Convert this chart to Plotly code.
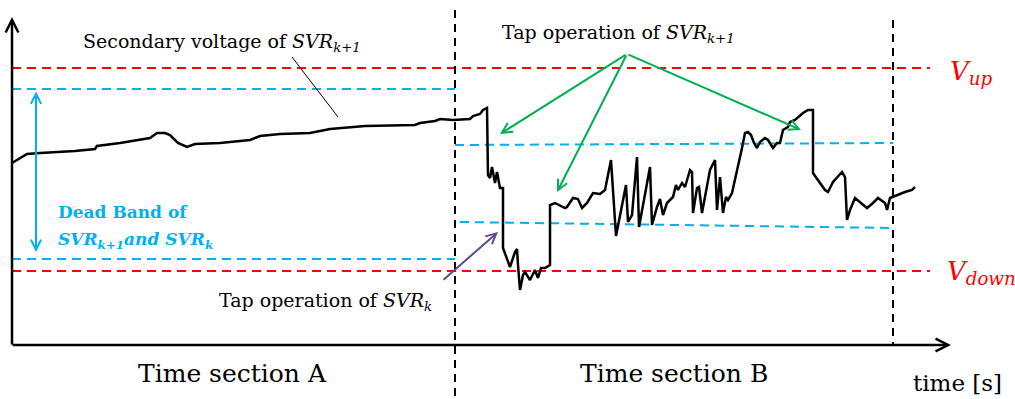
import plotly.graph_objects as go

# ---- data (schematic in chart units) ----
volt_x = [12, 20, 27, 40, 60, 75, 95, 97, 120, 150, 157, 165, 170, 178, 187, 195, 220, 250, 260, 280,
          310, 330, 365, 415, 420, 435, 440, 453, 470, 473, 480, 483, 487, 488, 490, 492, 495, 497,
          500, 503, 503, 507, 510, 515, 517, 518, 520, 523, 525, 530, 535, 538, 541, 545, 550, 550,
          555, 565, 567, 573, 578, 582, 587, 593, 600, 605, 611, 616, 626, 628, 632, 637, 639, 650,
          652, 657, 660, 663, 667, 673, 676, 678, 682, 685, 690, 692, 693, 697, 699, 702, 705, 710,
          715, 717, 720, 723, 726, 728, 732, 737, 742, 745, 748, 751, 754, 757, 760, 765, 768, 773,
          777, 780, 783, 788, 790, 795, 798, 803, 808, 813, 813, 818, 825, 828, 833, 842, 845, 847,
          850, 855, 860, 867, 873, 878, 885, 887, 890, 897, 905, 912, 915]
volt_y = [163, 158, 154, 153, 152, 151, 149, 146, 143, 138, 133, 133, 135, 143, 147, 144, 143, 140, 136, 134,
          133, 129, 126, 125, 123, 121, 119, 120, 119, 116, 114, 110, 108, 175, 178, 167, 183, 172,
          188, 188, 248, 258, 267, 252, 249, 265, 290, 275, 272, 280, 270, 278, 268, 268, 265, 205,
          203, 208, 207, 198, 199, 208, 203, 193, 194, 190, 160, 236, 185, 222, 215, 157, 227, 167,
          225, 207, 199, 215, 203, 197, 185, 190, 183, 187, 170, 172, 213, 188, 187, 213, 197, 170,
          160, 210, 177, 213, 197, 200, 193, 172, 148, 133, 132, 135, 143, 148, 142, 138, 140, 148,
          143, 143, 130, 127, 122, 120, 117, 113, 110, 110, 173, 180, 190, 192, 182, 172, 177, 220,
          210, 198, 202, 208, 203, 198, 203, 210, 198, 195, 192, 190, 187]

v_up = 68
v_down = 271
band_a = [89, 259]
band_b_upper = [145, 143]
band_b_lower = [222, 228]
sec_a_x = [12, 455]
sec_b_x = [455, 893]
ref_x = [12, 930]
section_bounds = [455, 893]

RED = "#FF0000"
BLUE = "#00B0F0"
GREEN = "#00B050"
PURPLE = "#5F4B8B"
SERIF = "DejaVu Serif"

fig = go.Figure()

dash = "9px,6px"
for yv in (v_up, v_down):
    fig.add_trace(go.Scatter(x=ref_x, y=[yv, yv], mode="lines",
                             line=dict(color=RED, width=2, dash=dash), hoverinfo="skip"))
for yv in band_a:
    fig.add_trace(go.Scatter(x=sec_a_x, y=[yv, yv], mode="lines",
                             line=dict(color=BLUE, width=2, dash=dash), hoverinfo="skip"))
fig.add_trace(go.Scatter(x=sec_b_x, y=band_b_upper, mode="lines",
                         line=dict(color=BLUE, width=2, dash=dash), hoverinfo="skip"))
fig.add_trace(go.Scatter(x=[460, 893], y=band_b_lower, mode="lines",
                         line=dict(color=BLUE, width=2, dash=dash), hoverinfo="skip"))
fig.add_trace(go.Scatter(x=[section_bounds[0]] * 2, y=[10, 397], mode="lines",
                         line=dict(color="black", width=2, dash="8px,6px"), hoverinfo="skip"))
fig.add_trace(go.Scatter(x=[section_bounds[1]] * 2, y=[20, 345], mode="lines",
                         line=dict(color="black", width=2, dash="8px,6px"), hoverinfo="skip"))
fig.add_trace(go.Scatter(x=volt_x, y=volt_y, mode="lines",
                         line=dict(color="black", width=2.5), hoverinfo="skip"))
fig.add_trace(go.Scatter(x=[292, 338], y=[57, 117], mode="lines",
                         line=dict(color="black", width=1), hoverinfo="skip"))

ann = []
def arrow(x, y, ax, ay, color, width=2, head=5, side="end", size=1):
    ann.append(dict(x=x, y=y, ax=ax, ay=ay, xref="x", yref="y", axref="x", ayref="y",
                    text="", showarrow=True, arrowhead=head, arrowsize=size, arrowwidth=width,
                    arrowcolor=color, arrowside=side, standoff=0, startstandoff=0))

arrow(12, 17, 12, 346, "black", width=2.5)
arrow(951, 345, 11, 345, "black", width=2.5)
arrow(36, 252, 36, 90, BLUE, width=2, side="end+start")
arrow(500, 134, 627, 54, GREEN, width=2)
arrow(557, 192, 627, 54, GREEN, width=2)
arrow(801, 130, 627, 54, GREEN, width=2)
arrow(498, 232, 442, 281, PURPLE, width=2)

def text(x, y, s, size, color="black", anchor="left", family=SERIF):
    ann.append(dict(x=x, y=y, xref="x", yref="y", text=s, showarrow=False,
                    xanchor=anchor, yanchor="middle", font=dict(family=family, size=size, color=color)))

text(81, 42, "Secondary voltage of <i>SVR<sub>k+1</sub></i>", 19)
text(500, 33, "Tap operation of <i>SVR<sub>k+1</sub></i>", 19)
text(217, 301, "Tap operation of <i>SVR<sub>k</sub></i>", 19)
text(56, 212, "<b>Dead Band of</b>", 17, BLUE)
text(56, 240, "<b><i>SVR<sub>k+1</sub>and SVR<sub>k</sub></i></b>", 17, BLUE)
text(948, 72, "<i>V<sub>up</sub></i>", 26, RED)
text(945, 272, "<i>V<sub>down</sub></i>", 26, RED)
text(232, 373, "Time section A", 25, anchor="center")
text(674, 373, "Time section B", 25, anchor="center")
text(911, 383, "time [s]", 23)

fig.update_layout(
    width=1015, height=399, margin=dict(l=0, r=0, t=0, b=0),
    paper_bgcolor="white", plot_bgcolor="white", showlegend=False,
    font=dict(family=SERIF),
    xaxis=dict(range=[0, 1015], visible=False, fixedrange=True),
    yaxis=dict(range=[399, 0], visible=False, fixedrange=True),
    annotations=ann,
)

fig.write_html("out.html")
